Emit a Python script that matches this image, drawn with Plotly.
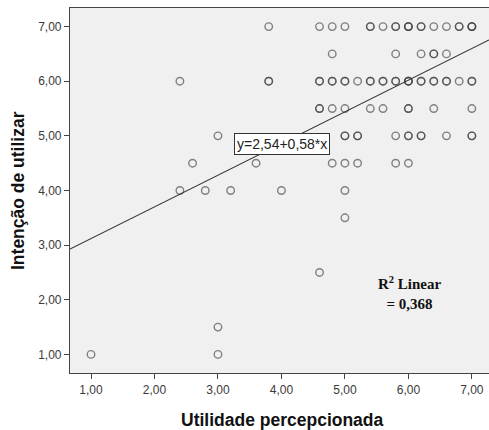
import plotly.graph_objects as go

# Data (x = Utilidade percepcionada, y = Intenção de utilizar)
point_x = [3.8, 4.6, 4.8, 5.0, 5.4, 5.6, 5.8, 6.0, 6.2, 6.4, 6.6, 6.8, 7.0,
           4.8, 5.8, 6.2, 6.4, 6.6,
           2.4, 3.8, 4.6, 4.8, 5.0, 5.2, 5.4, 5.6, 5.8, 6.0, 6.2, 6.4, 6.6, 6.8, 7.0,
           4.6, 4.8, 5.0, 5.4, 5.6, 6.0, 6.4, 7.0,
           3.0, 5.0, 5.2, 5.8, 6.0, 6.2, 6.6, 7.0,
           2.6, 3.6, 4.8, 5.0, 5.2, 5.8, 6.0,
           2.4, 2.8, 3.2, 4.0, 5.0,
           5.0,
           4.6,
           3.0,
           1.0, 3.0]
point_y = [7.0] * 13 + [6.5] * 5 + [6.0] * 15 + [5.5] * 8 + [5.0] * 8 + [4.5] * 7 + \
          [4.0] * 5 + [3.5] + [2.5] + [1.5] + [1.0] * 2
point_count = [1, 1, 1, 1, 2, 1, 2, 3, 2, 1, 1, 2, 3,
               1, 1, 1, 2, 1,
               1, 2, 2, 2, 2, 1, 2, 2, 2, 3, 2, 2, 2, 1, 2,
               2, 1, 1, 1, 1, 2, 1, 1,
               1, 2, 2, 1, 2, 2, 1, 2,
               1, 1, 1, 1, 1, 1, 1,
               1, 1, 1, 1, 1,
               1,
               1,
               1,
               1, 1]

intercept = 2.54
slope = 0.58
r2 = 0.368

x_tick_vals = [1, 2, 3, 4, 5, 6, 7]
y_tick_vals = [1, 2, 3, 4, 5, 6, 7]
x_range = [0.669, 7.27]
y_range = [0.66, 7.34]

xs, ys = [], []
for xv, yv, c in zip(point_x, point_y, point_count):
    xs += [xv] * c
    ys += [yv] * c

fig = go.Figure()
fig.add_trace(go.Scatter(
    x=xs, y=ys, mode="markers",
    marker=dict(symbol="circle-open", size=7.5,
                line=dict(width=1.4, color="rgba(60,60,60,0.62)"),
                color="rgba(60,60,60,0.62)"),
    showlegend=False, hoverinfo="x+y"))

line_x = [x_range[0], x_range[1]]
line_y = [intercept + slope * v for v in line_x]
fig.add_trace(go.Scatter(x=line_x, y=line_y, mode="lines",
                         line=dict(color="#333333", width=1.1),
                         showlegend=False, hoverinfo="skip"))

axis_common = dict(showline=True, linecolor="#444444", linewidth=1.2,
                   ticks="outside", ticklen=5, tickcolor="#444444",
                   tickfont=dict(family="Liberation Sans, Arial", size=12, color="#3a3a3a"),
                   tickformat=".2f", showgrid=False, zeroline=False, automargin=False)

title_font = dict(family="Liberation Sans, Arial", size=17.5, color="#111111")

fig.update_layout(
    width=489, height=430,
    margin=dict(l=70, r=0, t=8, b=57),
    paper_bgcolor="white", plot_bgcolor="#F0F0F0",
    separators=",.",
    xaxis=dict(range=x_range, tickvals=x_tick_vals, mirror=True, **axis_common),
    yaxis=dict(range=y_range, tickvals=y_tick_vals, **axis_common),
    annotations=[
        dict(x=4.005, y=4.85, xref="x", yref="y",
             text="y=%s+%s*x" % (f"{intercept:.2f}".replace(".", ","), f"{slope:.2f}".replace(".", ",")),
             showarrow=False, xanchor="center", yanchor="middle",
             bgcolor="white", bordercolor="#333333", borderwidth=1, borderpad=2,
             font=dict(family="Liberation Sans, Arial", size=14, color="#222222")),
        dict(x=6.03, y=2.12, xref="x", yref="y",
             text="<b>R<sup>2</sup> Linear</b><br><b>= %s</b>" % f"{r2:.3f}".replace(".", ","),
             showarrow=False, align="center",
             font=dict(family="Liberation Serif, Times New Roman", size=15, color="#111111")),
    ],
)

# Axis titles positioned in paper coordinates (plot area spans 70..489 x 8..373 px)
plot_w = 489 - 70
plot_h = 430 - 8 - 57
fig.add_annotation(x=(282 - 70) / plot_w, y=-(420 - 373) / plot_h, xref="paper", yref="paper",
                   text="<b>Utilidade percepcionada</b>", showarrow=False,
                   xanchor="center", yanchor="middle", font=title_font)
fig.add_annotation(x=-(70 - 18) / plot_w, y=(373 - 191) / plot_h, xref="paper", yref="paper",
                   text="<b>Intenção de utilizar</b>", showarrow=False, textangle=-90,
                   xanchor="center", yanchor="middle", font=title_font)

fig.write_html("out.html", config={"displayModeBar": False},
               post_script="document.body.style.margin='0';document.body.style.overflow='hidden';")
